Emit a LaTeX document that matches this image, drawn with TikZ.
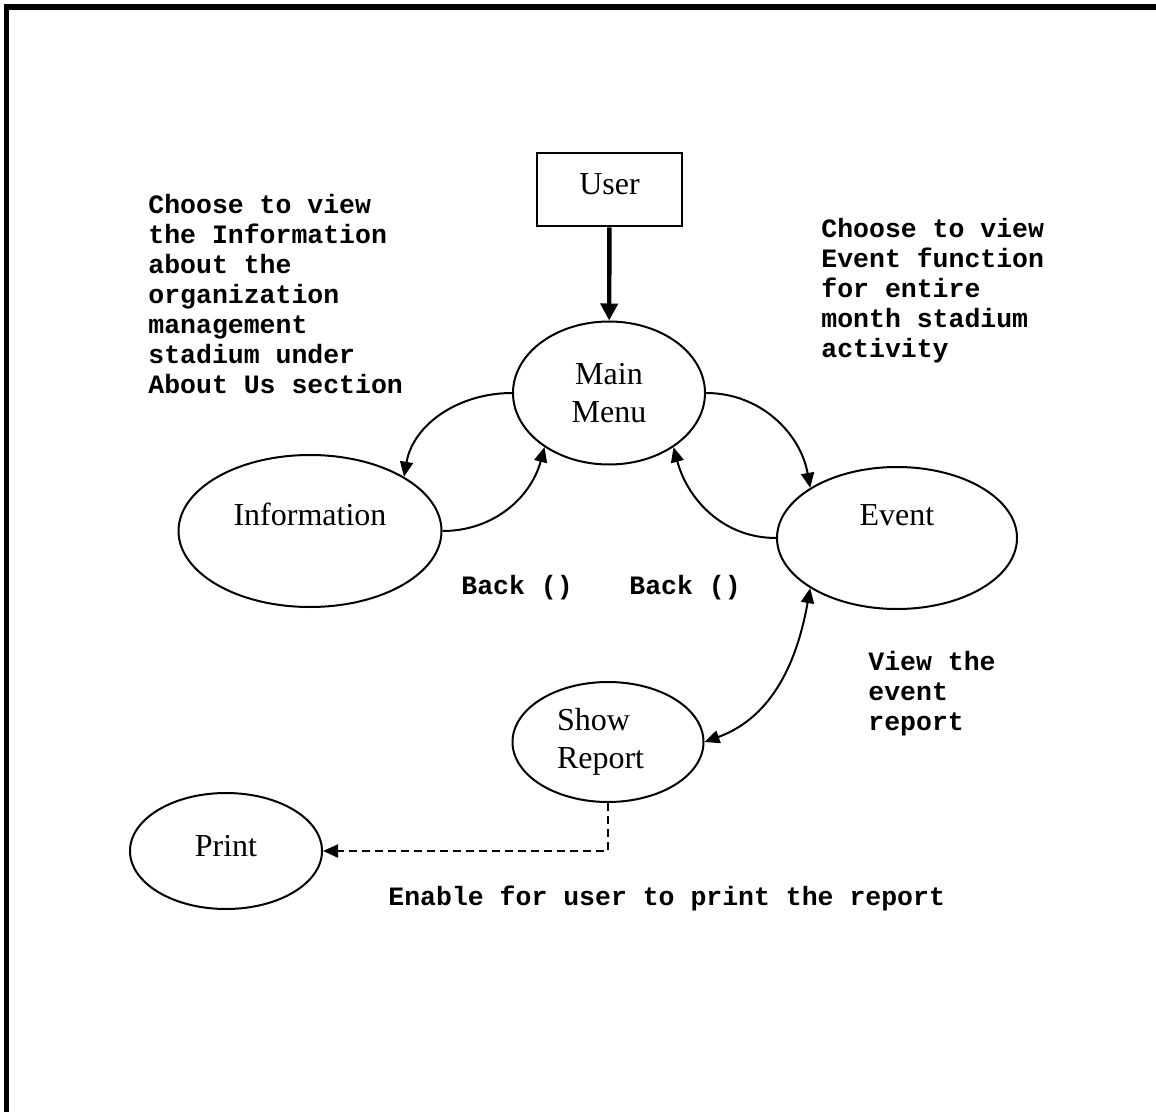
\documentclass[tikz,border=0pt]{standalone}
\usepackage{fontspec}
\setmainfont{Liberation Serif}
\setmonofont{Liberation Mono}
\usetikzlibrary{shapes.geometric,arrows.meta}

\begin{document}
\begin{tikzpicture}[x=0.5pt,y=-0.5pt,
  oval/.style={draw,ellipse,line width=1pt,inner sep=0pt,
    font=\fontsize{16}{19}\selectfont},
  note/.style={inner sep=0pt,align=left,
    font=\ttfamily\bfseries\fontsize{13.25}{15}\selectfont},
  tip/.style={-{Triangle[length=7.5pt,width=6.5pt]}},
  flow/.style={line width=1pt,tip}
]

\useasboundingbox (0,0) rectangle (1156,1112);
\draw[line width=2.6pt] (6.5,1112) -- (6.5,7) -- (1156,7);

\node[draw,line width=1pt,minimum width=72.5pt,minimum height=36.5pt,
  text height=10.5pt,text depth=5.5pt,font=\fontsize{16}{19}\selectfont] (user) at (609.5,190) {User};
\node[oval,minimum width=96pt,minimum height=71.5pt,align=center] (main) at (609,393) {Main\\Menu};
\node[oval,minimum width=131.5pt,minimum height=76pt,text height=10.5pt,text depth=16.5pt] (info) at (310,531) {Information};
\node[oval,minimum width=120pt,minimum height=71pt,text height=10.5pt,text depth=23.5pt] (event) at (897,538) {Event};
\node[oval,minimum width=95.5pt,minimum height=60pt,text width=51pt,align=left] (show) at (608,742) {Show\\Report};
\node[oval,minimum width=96pt,minimum height=58pt,text height=10.5pt,text depth=5.5pt] (print) at (226,851) {Print};

\node[note,anchor=north west] (infonote) at (148,194) {Choose to view\\the Information\\about the\\organization\\management\\stadium under\\About Us section};
\node[note,anchor=north west] (eventnote) at (821,218) {Choose to view\\Event function\\for entire\\month stadium\\activity};
\node[note,anchor=base west] (backinfo) at (461,594) {Back ()};
\node[note,anchor=base west] (backevent) at (629,594) {Back ()};
\node[note,anchor=north west] (shownote) at (868,651) {View the\\event\\report};
\node[note,anchor=base west] (printnote) at (388,905) {Enable for user to print the report};

\draw[line width=2.2pt,-{Triangle[length=8.5pt,width=8.5pt]}] (user) -- (main);
\draw[flow] (main.west) to[out=180,in=80] (info.30);
\draw[flow] (info.east) to[out=0,in=-105] (main.220);
\draw[flow] (main.east) to[out=0,in=100] (event.150);
\draw[flow] (event.west) to[out=180,in=-75] (main.320);
\draw[line width=1pt,{Triangle[length=7.5pt,width=6.5pt]}-{Triangle[length=7.5pt,width=6.5pt]}] (event.210) to[out=-100,in=20] (show.east);
\draw[flow,dash pattern=on 4pt off 2.5pt] (show.south) |- (print.east);
\end{tikzpicture}
\end{document}
